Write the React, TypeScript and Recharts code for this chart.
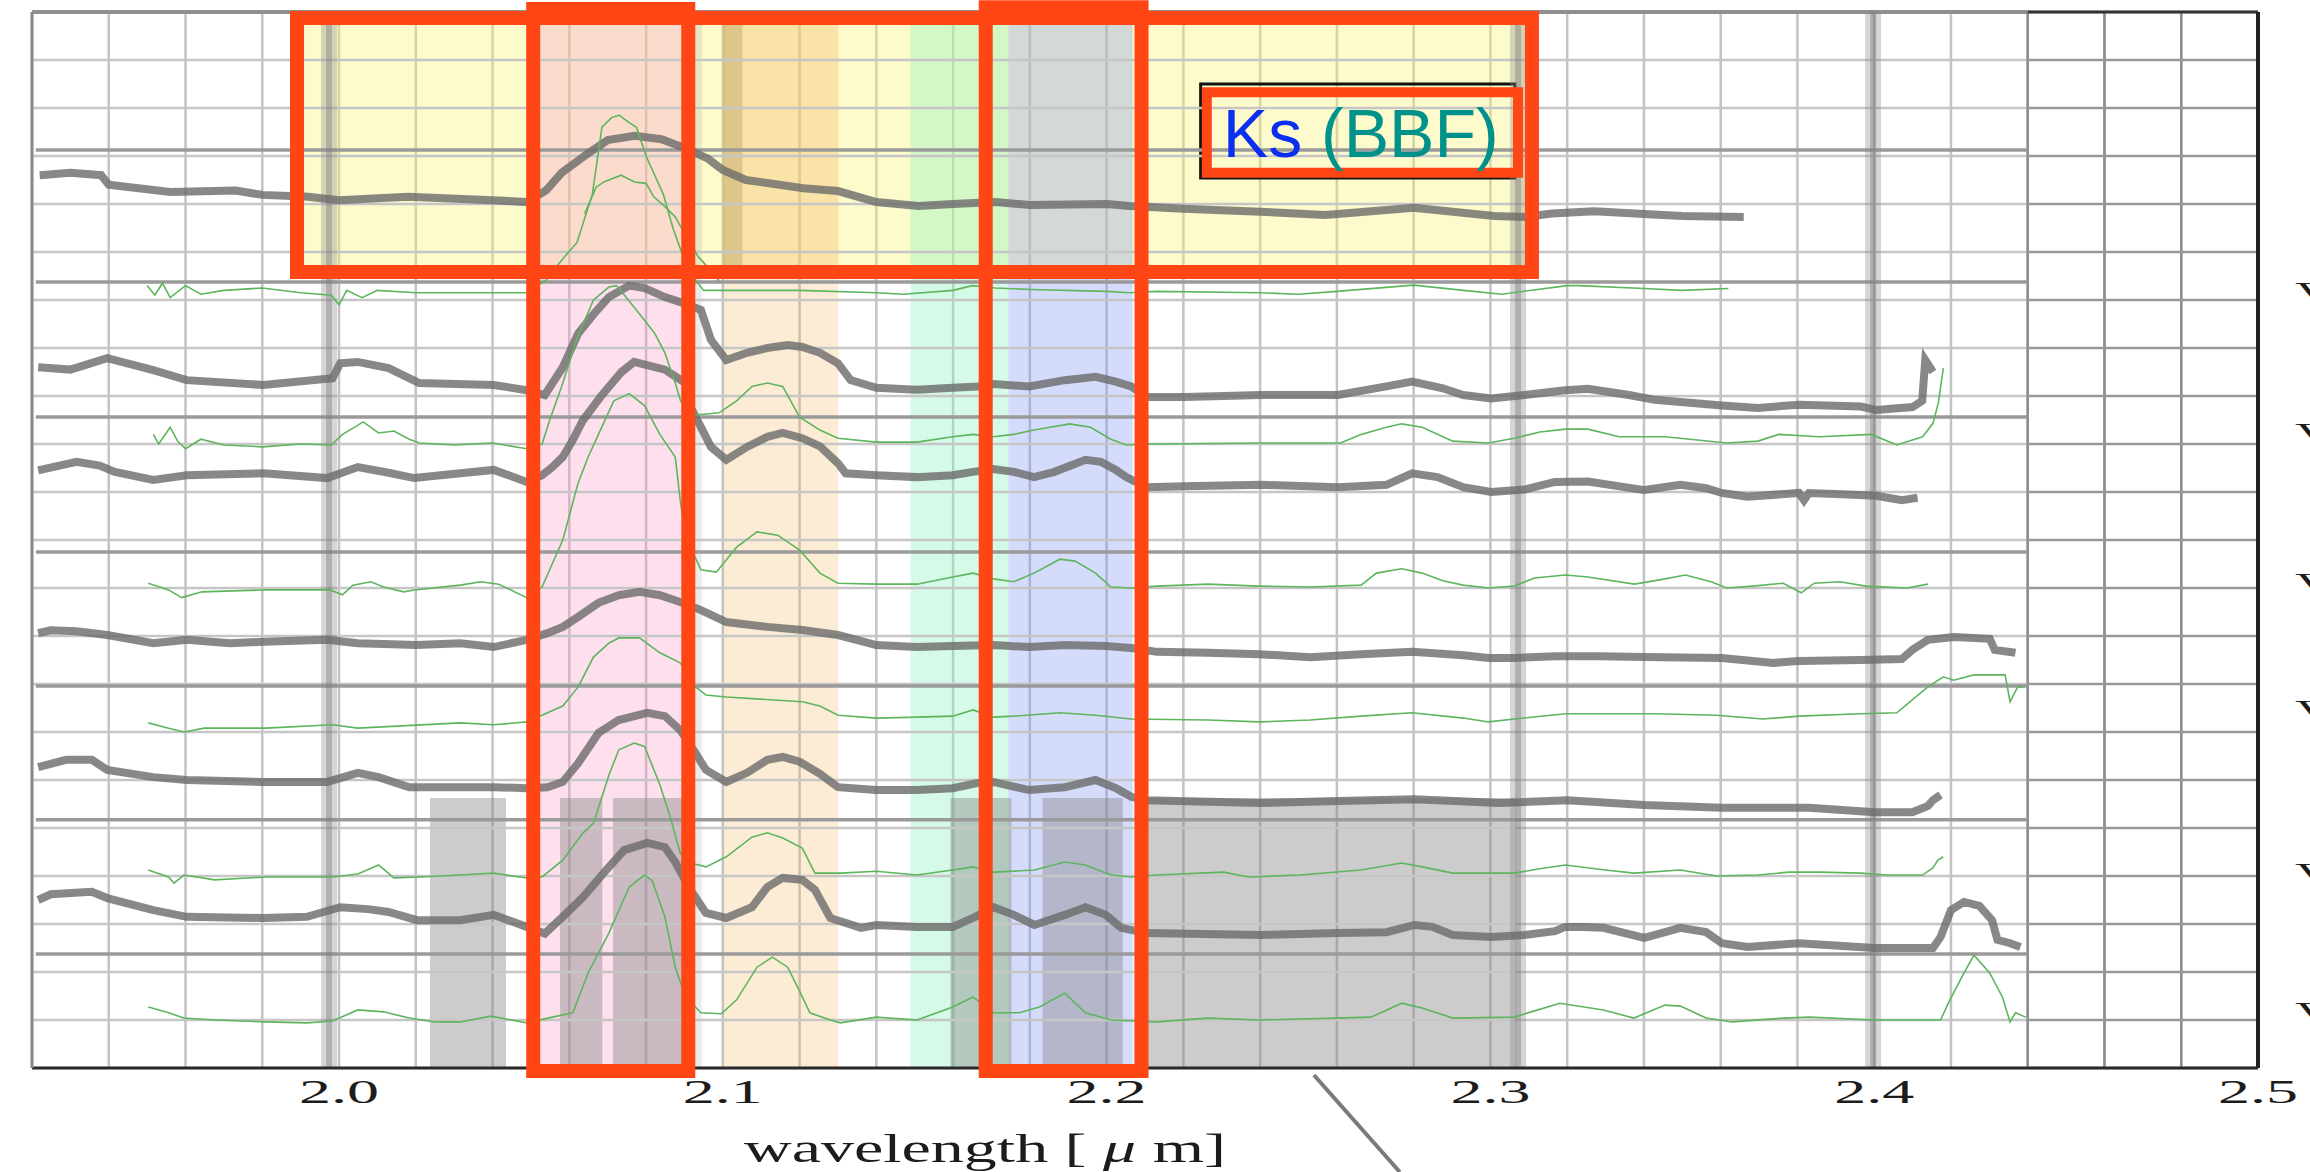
import React from "react";
import {
  LineChart,
  Line,
  XAxis,
  YAxis,
  CartesianGrid,
  ReferenceArea,
  ReferenceLine,
  ReferenceDot,
  Label,
} from "recharts";

type P = [number, number];

// axis values
const xTicks = [2.0, 2.1, 2.2, 2.3, 2.4, 2.5];
const yRows = [0, 1, 2, 3, 4, 5, 6, 7, 8, 9, 10, 11, 12, 13, 14, 15, 16, 17, 18, 19, 20, 21, 22];
const gridX = [
  1.92, 1.94, 1.96, 1.98, 2.0, 2.02, 2.04, 2.06, 2.08, 2.1, 2.12, 2.14, 2.16, 2.18, 2.2,
  2.22, 2.24, 2.26, 2.28, 2.3, 2.32, 2.34, 2.36, 2.38, 2.4, 2.42, 2.44, 2.46, 2.48, 2.5,
];
const rightGridX = [2.44, 2.46, 2.48];
const panelRules = [19.125, 16.375, 13.56, 10.75, 7.96, 5.17, 2.375];
const vLabelRows = [15.96, 13.02, 9.9, 7.25, 3.85, 0.96];
const telluric = [1.9974, 2.3072, 2.3997];

// shaded wavelength windows [x1, x2]
const ksWindow: P = [1.9901, 2.3098];
const ksTop: P = [16.625, 22];
const pinkBand: P = [2.0515, 2.0905];
const tanBand: P = [2.1001, 2.1301];
const mintBand: P = [2.1489, 2.1744];
const blueBand: P = [2.1744, 2.2068];
const maskTop = 5.625;
const maskBoxes: P[] = [
  [2.0237, 2.0435],
  [2.0576, 2.0686],
  [2.0714, 2.0897],
  [2.1593, 2.1752],
  [2.1833, 2.2042],
  [2.2071, 2.3066],
];

// annotation boxes [x1, x2, y1, y2]
const redBoxes: [number, number, number, number][] = [
  [1.98905, 2.31082, 16.583, 21.875],
  [2.05059, 2.091, -0.06, 22.06],
  [2.1685, 2.2091, -0.06, 22.1],
];
const ksBox: [number, number, number, number] = [2.2261, 2.3072, 18.65, 20.33];
const ksFrame: [number, number, number, number] = [2.2245, 2.3064, 18.54, 20.5];
const pointer: P[] = [
  [2.254, -0.146],
  [2.2764, -2.167],
];

// spectra
const grayA: P[] = [
  [1.922, 18.6], [1.93, 18.65], [1.938, 18.6], [1.94, 18.4], [1.956, 18.25], [1.973, 18.28],
  [1.98, 18.19], [1.992, 18.15], [2.0, 18.08], [2.018, 18.15], [2.04, 18.08], [2.049, 18.04],
  [2.054, 18.29], [2.058, 18.65], [2.065, 19.06], [2.07, 19.33], [2.077, 19.42], [2.084, 19.35],
  [2.09, 19.17], [2.096, 18.95], [2.1, 18.71], [2.106, 18.5], [2.121, 18.33], [2.13, 18.27],
  [2.14, 18.04], [2.151, 17.96], [2.16, 18.0], [2.171, 18.04], [2.18, 17.98], [2.2, 18.0],
  [2.206, 17.96], [2.22, 17.9], [2.24, 17.84], [2.257, 17.77], [2.28, 17.92], [2.301, 17.75],
  [2.309, 17.73], [2.316, 17.8], [2.327, 17.85], [2.34, 17.79], [2.35, 17.75], [2.366, 17.73],
];
const greenA: P[] = [
  [1.95, 16.3], [1.952, 16.1], [1.954, 16.35], [1.956, 16.05], [1.96, 16.3], [1.964, 16.12],
  [1.97, 16.2], [1.98, 16.25], [1.99, 16.15], [1.998, 16.1], [2.0, 15.9], [2.002, 16.2],
  [2.006, 16.05], [2.01, 16.2], [2.02, 16.15], [2.035, 16.15], [2.049, 16.15], [2.054, 16.42],
  [2.058, 16.83], [2.062, 17.2], [2.066, 18.2], [2.0685, 19.6], [2.071, 19.8], [2.073, 19.85],
  [2.0755, 19.7], [2.0775, 19.6], [2.08, 19.0], [2.0845, 18.2], [2.087, 17.5], [2.09, 16.83],
  [2.0925, 16.45], [2.095, 16.2], [2.12, 16.2], [2.14, 16.15], [2.147, 16.12], [2.16, 16.2],
  [2.165, 16.3], [2.171, 16.25], [2.18, 16.22], [2.2, 16.18], [2.206, 16.15], [2.213, 16.18],
  [2.24, 16.15], [2.25, 16.12], [2.26, 16.18], [2.28, 16.31], [2.293, 16.2], [2.303, 16.12],
  [2.32, 16.3], [2.323, 16.3], [2.34, 16.24], [2.35, 16.2], [2.362, 16.24],
];
const greenA2: P[] = [
  [2.064, 17.8], [2.067, 18.35], [2.069, 18.46], [2.0735, 18.6], [2.077, 18.46], [2.08, 18.43],
  [2.082, 18.15], [2.085, 17.94], [2.0876, 17.73], [2.091, 17.25], [2.0936, 16.9], [2.096, 16.69],
  [2.099, 16.4],
];
const grayB: P[] = [
  [1.9216, 14.6], [1.93, 14.55], [1.9396, 14.79], [1.9516, 14.54], [1.9603, 14.33], [1.9803, 14.23],
  [1.9983, 14.37], [2.0003, 14.68], [2.0049, 14.71], [2.0129, 14.58], [2.0209, 14.27], [2.0403, 14.23],
  [2.0489, 14.12], [2.0536, 14.02], [2.0583, 14.6], [2.0623, 15.3], [2.0663, 15.7], [2.0703, 16.06],
  [2.0756, 16.3], [2.0796, 16.25], [2.0849, 16.06], [2.0903, 15.92], [2.0943, 15.79], [2.0969, 15.17],
  [2.1009, 14.75], [2.1063, 14.9], [2.1116, 15.0], [2.1169, 15.06], [2.1207, 15.02], [2.1253, 14.9],
  [2.13, 14.68], [2.1333, 14.33], [2.14, 14.17], [2.1506, 14.13], [2.1599, 14.17], [2.1665, 14.2],
  [2.1705, 14.25], [2.1798, 14.2], [2.1891, 14.33], [2.1971, 14.4], [2.2024, 14.3], [2.2064, 14.2],
  [2.2104, 13.98], [2.2204, 13.98], [2.2403, 14.02], [2.2603, 14.02], [2.2729, 14.2], [2.2796, 14.3],
  [2.2876, 14.16], [2.2929, 14.02], [2.3002, 13.95], [2.3089, 14.02], [2.3195, 14.12], [2.3254, 14.15],
  [2.3361, 14.02], [2.3428, 13.92], [2.3603, 13.8], [2.3697, 13.75], [2.3804, 13.82], [2.3965, 13.78],
  [2.4005, 13.71], [2.41, 13.77], [2.4125, 13.9], [2.4133, 14.75], [2.4153, 14.5],
];
const greenB: P[] = [
  [1.9516, 13.2], [1.953, 13.0], [1.956, 13.35], [1.958, 13.05], [1.96, 12.9], [1.964, 13.1],
  [1.97, 12.98], [1.98, 12.94], [1.99, 13.0], [1.998, 12.98], [2.0009, 13.2], [2.003, 13.3],
  [2.0063, 13.46], [2.0103, 13.23], [2.0143, 13.27], [2.0183, 13.1], [2.0209, 13.02], [2.03, 12.98],
  [2.04, 13.02], [2.0489, 12.9], [2.0529, 13.0], [2.0549, 13.5], [2.058, 14.2], [2.062, 15.2],
  [2.0663, 16.0], [2.0703, 16.27], [2.0723, 16.3], [2.0756, 15.98], [2.0796, 15.58], [2.0823, 15.3],
  [2.0849, 14.9], [2.0876, 14.27], [2.089, 13.9], [2.0916, 13.6], [2.095, 13.62], [2.099, 13.65],
  [2.1036, 13.9], [2.1076, 14.2], [2.1116, 14.27], [2.1156, 14.2], [2.12, 13.56], [2.1253, 13.29],
  [2.13, 13.12], [2.14, 13.04], [2.1506, 13.04], [2.1599, 13.15], [2.1652, 13.2], [2.1705, 13.15],
  [2.1758, 13.2], [2.1811, 13.29], [2.1904, 13.42], [2.1958, 13.35], [2.2011, 13.1], [2.2051, 12.98],
  [2.2131, 13.0], [2.24, 13.02], [2.2609, 13.02], [2.2663, 13.2], [2.2729, 13.35], [2.2769, 13.42],
  [2.2822, 13.35], [2.2902, 13.06], [2.2995, 13.02], [2.3062, 13.12], [2.3129, 13.25], [2.3195, 13.31],
  [2.3254, 13.31], [2.3335, 13.15], [2.3455, 13.15], [2.3616, 13.02], [2.3697, 13.06], [2.3751, 13.2],
  [2.3858, 13.15], [2.3992, 13.2], [2.4059, 12.98], [2.4126, 13.15], [2.4153, 13.43], [2.4167, 13.85],
  [2.418, 14.58],
];
const grayC: P[] = [
  [1.9216, 12.45], [1.9316, 12.63], [1.9376, 12.55], [1.9416, 12.42], [1.9516, 12.25], [1.9603, 12.35],
  [1.9803, 12.39], [1.9969, 12.29], [2.0049, 12.52], [2.0129, 12.4], [2.0196, 12.29], [2.0316, 12.39],
  [2.0403, 12.46], [2.0489, 12.21], [2.0529, 12.35], [2.0556, 12.52], [2.0583, 12.73], [2.0609, 13.08],
  [2.0636, 13.5], [2.0683, 14.0], [2.0736, 14.5], [2.0769, 14.71], [2.0849, 14.55], [2.0903, 14.27],
  [2.0916, 13.77], [2.0943, 13.35], [2.0969, 12.94], [2.1009, 12.67], [2.1063, 12.94], [2.1116, 13.15],
  [2.1156, 13.23], [2.1207, 13.12], [2.1253, 12.95], [2.13, 12.6], [2.132, 12.39], [2.14, 12.35],
  [2.1506, 12.31], [2.1599, 12.35], [2.1652, 12.42], [2.1705, 12.48], [2.1758, 12.42], [2.1811, 12.31],
  [2.1864, 12.42], [2.1945, 12.67], [2.1985, 12.63], [2.2024, 12.46], [2.2051, 12.31], [2.2104, 12.1],
  [2.2204, 12.12], [2.2403, 12.15], [2.2603, 12.1], [2.2729, 12.15], [2.2796, 12.39], [2.2862, 12.31],
  [2.2929, 12.1], [2.3002, 12.0], [2.3089, 12.05], [2.3168, 12.21], [2.3254, 12.22], [2.3401, 12.04],
  [2.3495, 12.15], [2.3562, 12.08], [2.3603, 11.98], [2.3669, 11.9], [2.3804, 11.98], [2.3817, 11.83],
  [2.383, 11.98], [2.3898, 11.96], [2.4005, 11.92], [2.4072, 11.83], [2.4113, 11.88],
];
const greenC: P[] = [
  [1.9503, 10.1], [1.9556, 9.96], [1.959, 9.8], [1.9643, 9.92], [1.9803, 9.96], [1.9976, 9.96],
  [2.0009, 9.86], [2.0036, 10.06], [2.0083, 10.13], [2.0116, 10.02], [2.0169, 9.92], [2.0196, 9.96],
  [2.0316, 10.06], [2.0369, 10.13], [2.0416, 10.08], [2.0489, 9.8], [2.0529, 10.02], [2.0583, 11.0],
  [2.0623, 12.19], [2.0649, 12.73], [2.0676, 13.2], [2.0716, 13.9], [2.0756, 14.05], [2.0796, 13.8],
  [2.0836, 13.2], [2.0876, 12.73], [2.0889, 11.83], [2.0903, 11.06], [2.0943, 10.38], [2.0983, 10.33],
  [2.1036, 10.85], [2.1089, 11.17], [2.1143, 11.1], [2.12, 10.79], [2.1253, 10.31], [2.13, 10.1],
  [2.14, 10.08], [2.1506, 10.08], [2.1599, 10.23], [2.1652, 10.31], [2.1705, 10.19], [2.1758, 10.13],
  [2.1811, 10.31], [2.1878, 10.6], [2.1918, 10.56], [2.1971, 10.31], [2.2011, 10.02], [2.2064, 10.0],
  [2.2131, 10.04], [2.2264, 10.08], [2.2397, 10.04], [2.253, 10.02], [2.2663, 10.06], [2.2703, 10.31],
  [2.2769, 10.4], [2.2822, 10.31], [2.2876, 10.15], [2.2929, 10.06], [2.2995, 10.0], [2.3062, 10.04],
  [2.3115, 10.21], [2.3195, 10.27], [2.3254, 10.23], [2.3375, 10.08], [2.3441, 10.17], [2.3508, 10.27],
  [2.3575, 10.13], [2.3616, 10.0], [2.3683, 10.04], [2.3763, 10.1], [2.381, 9.9], [2.3844, 10.1],
  [2.3911, 10.13], [2.3978, 10.04], [2.4085, 10.0], [2.414, 10.08],
];
const grayD: P[] = [
  [1.9216, 9.06], [1.9249, 9.12], [1.9316, 9.1], [1.9396, 9.02], [1.9516, 8.85], [1.9603, 8.92],
  [1.9716, 8.85], [1.9803, 8.88], [1.9969, 8.92], [2.0049, 8.85], [2.0203, 8.81], [2.0316, 8.85],
  [2.0403, 8.77], [2.0489, 8.92], [2.0543, 9.06], [2.0583, 9.19], [2.0623, 9.4], [2.0676, 9.69],
  [2.0729, 9.85], [2.0783, 9.92], [2.0836, 9.85], [2.0889, 9.71], [2.0943, 9.54], [2.1009, 9.29],
  [2.1116, 9.19], [2.1207, 9.125], [2.13, 9.02], [2.14, 8.81], [2.1506, 8.77], [2.1599, 8.79],
  [2.1705, 8.81], [2.1798, 8.77], [2.1891, 8.81], [2.1998, 8.79], [2.2064, 8.75], [2.2131, 8.67],
  [2.2264, 8.65], [2.2397, 8.62], [2.253, 8.56], [2.2663, 8.62], [2.2796, 8.67], [2.2929, 8.6],
  [2.2995, 8.54], [2.3062, 8.54], [2.3168, 8.58], [2.3285, 8.58], [2.3401, 8.56], [2.3603, 8.54],
  [2.3737, 8.44], [2.3804, 8.48], [2.3965, 8.5], [2.4072, 8.52], [2.4099, 8.71], [2.414, 8.92],
  [2.4207, 8.98], [2.4301, 8.94], [2.4314, 8.71], [2.4368, 8.65],
];
const greenD: P[] = [
  [1.9503, 7.19], [1.9556, 7.08], [1.9596, 7.0], [1.9649, 7.08], [1.9809, 7.08], [1.9983, 7.15],
  [2.0049, 7.08], [2.0316, 7.19], [2.0403, 7.15], [2.0489, 7.21], [2.0543, 7.4], [2.0583, 7.54],
  [2.0623, 7.94], [2.0663, 8.56], [2.0703, 8.85], [2.0729, 8.96], [2.0783, 8.96], [2.0836, 8.65],
  [2.0889, 8.44], [2.0929, 7.94], [2.0956, 7.77], [2.1009, 7.73], [2.1207, 7.63], [2.1253, 7.54],
  [2.13, 7.35], [2.14, 7.29], [2.1506, 7.31], [2.1599, 7.33], [2.1652, 7.46], [2.1705, 7.31],
  [2.1758, 7.33], [2.1878, 7.4], [2.1971, 7.35], [2.2064, 7.27], [2.2264, 7.25], [2.2397, 7.21],
  [2.253, 7.25], [2.2663, 7.33], [2.2796, 7.4], [2.2929, 7.29], [2.2995, 7.21], [2.3062, 7.27],
  [2.3195, 7.38], [2.3294, 7.38], [2.3428, 7.38], [2.3589, 7.35], [2.371, 7.27], [2.3804, 7.33],
  [2.3965, 7.38], [2.4059, 7.4], [2.4099, 7.67], [2.414, 7.94], [2.418, 8.15], [2.4207, 8.08],
  [2.426, 8.19], [2.4341, 8.19], [2.4354, 7.63], [2.4374, 7.94], [2.4388, 7.94],
];
const grayE: P[] = [
  [1.9216, 6.27], [1.9289, 6.42], [1.9356, 6.42], [1.9396, 6.21], [1.9516, 6.06], [1.9603, 6.0],
  [1.9803, 5.96], [1.9969, 5.96], [2.0049, 6.15], [2.0103, 6.06], [2.0183, 5.85], [2.0403, 5.85],
  [2.0489, 5.83], [2.0543, 5.85], [2.0583, 5.96], [2.0623, 6.35], [2.0676, 6.98], [2.0729, 7.25],
  [2.0803, 7.4], [2.0849, 7.33], [2.0889, 7.04], [2.0929, 6.56], [2.0956, 6.21], [2.1009, 5.96],
  [2.1063, 6.15], [2.1116, 6.42], [2.1156, 6.48], [2.12, 6.38], [2.1253, 6.13], [2.13, 5.85],
  [2.14, 5.79], [2.1506, 5.79], [2.1599, 5.83], [2.1665, 5.94], [2.1705, 5.96], [2.1798, 5.79],
  [2.1891, 5.85], [2.1971, 6.0], [2.2024, 5.83], [2.2064, 5.65], [2.2104, 5.58], [2.2403, 5.52],
  [2.2603, 5.56], [2.2802, 5.6], [2.3025, 5.52], [2.32, 5.58], [2.3401, 5.48], [2.3603, 5.42],
  [2.3831, 5.42], [2.4001, 5.33], [2.4099, 5.33], [2.414, 5.46], [2.4153, 5.58], [2.4173, 5.69],
];
const greenE: P[] = [
  [1.9503, 4.125], [1.9556, 3.98], [1.957, 3.85], [1.9596, 4.02], [1.9676, 3.92], [1.9809, 3.98],
  [1.9983, 3.98], [2.0049, 4.04], [2.0103, 4.23], [2.0143, 3.96], [2.0209, 3.98], [2.0316, 4.02],
  [2.0403, 4.06], [2.0489, 3.96], [2.0529, 3.98], [2.0583, 4.33], [2.0636, 4.9], [2.0663, 5.1],
  [2.0703, 6.1], [2.0729, 6.63], [2.0769, 6.77], [2.0796, 6.7], [2.0816, 6.3], [2.0836, 5.9],
  [2.0863, 5.23], [2.0889, 4.48], [2.0916, 4.27], [2.0956, 4.19], [2.1009, 4.4], [2.1076, 4.81],
  [2.1116, 4.9], [2.1156, 4.79], [2.1207, 4.58], [2.124, 4.06], [2.1306, 4.06], [2.14, 4.1],
  [2.1506, 4.02], [2.1599, 4.125], [2.1652, 4.19], [2.1705, 4.08], [2.1812, 4.125], [2.1891, 4.29],
  [2.1945, 4.23], [2.2011, 4.02], [2.2064, 3.98], [2.2131, 4.02], [2.2304, 4.08], [2.237, 3.98],
  [2.2503, 4.02], [2.2663, 4.125], [2.2769, 4.27], [2.2822, 4.19], [2.2902, 4.06], [2.3062, 4.06],
  [2.3128, 4.15], [2.3195, 4.23], [2.3294, 4.13], [2.3374, 4.06], [2.3495, 4.125], [2.3589, 4.0],
  [2.3697, 4.02], [2.3777, 4.08], [2.3858, 4.08], [2.3965, 4.06], [2.4032, 4.02], [2.4126, 4.02],
  [2.4153, 4.17], [2.4166, 4.33], [2.418, 4.4],
];
const grayF: P[] = [
  [1.9216, 3.5], [1.9249, 3.62], [1.9356, 3.67], [1.9396, 3.54], [1.9516, 3.29], [1.9603, 3.15],
  [1.9803, 3.125], [1.9916, 3.15], [2.0003, 3.35], [2.0076, 3.31], [2.0129, 3.25], [2.0203, 3.08],
  [2.0316, 3.08], [2.0403, 3.19], [2.0489, 2.94], [2.0536, 2.8], [2.0583, 3.15], [2.0636, 3.56],
  [2.0689, 4.06], [2.0743, 4.54], [2.0803, 4.69], [2.0849, 4.6], [2.0876, 4.29], [2.0916, 3.71],
  [2.0956, 3.23], [2.1009, 3.125], [2.1076, 3.35], [2.1116, 3.77], [2.1156, 3.96], [2.1207, 3.92],
  [2.124, 3.71], [2.128, 3.125], [2.136, 2.92], [2.14, 2.98], [2.1506, 2.94], [2.1599, 2.94],
  [2.1652, 3.125], [2.1705, 3.35], [2.1758, 3.19], [2.1812, 2.98], [2.1891, 3.19], [2.1945, 3.35],
  [2.1998, 3.19], [2.2038, 2.92], [2.2104, 2.81], [2.2403, 2.77], [2.2603, 2.81], [2.2729, 2.83],
  [2.2802, 2.98], [2.2849, 2.94], [2.2902, 2.77], [2.3002, 2.73], [2.3089, 2.77], [2.3168, 2.85],
  [2.3195, 2.94], [2.324, 2.94], [2.3294, 2.92], [2.3401, 2.71], [2.3495, 2.92], [2.3562, 2.83],
  [2.3603, 2.6], [2.367, 2.52], [2.3804, 2.6], [2.4001, 2.5], [2.4153, 2.5], [2.4173, 2.73],
  [2.42, 3.29], [2.4234, 3.46], [2.4274, 3.38], [2.4307, 3.08], [2.4321, 2.67], [2.4354, 2.6],
  [2.4381, 2.52],
];
const greenF: P[] = [
  [1.9503, 1.27], [1.9556, 1.15], [1.9596, 1.04], [1.9676, 1.0], [1.9809, 0.96], [1.9916, 0.94],
  [1.9983, 0.98], [2.0049, 1.21], [2.0116, 1.17], [2.0183, 1.04], [2.0249, 0.96], [2.0316, 0.96],
  [2.0396, 1.08], [2.0449, 1.0], [2.0489, 0.94], [2.0556, 1.06], [2.0609, 1.15], [2.0649, 1.98],
  [2.0703, 2.81], [2.0756, 3.77], [2.0796, 4.02], [2.0816, 3.9], [2.0849, 3.15], [2.0876, 2.1],
  [2.0903, 1.48], [2.0943, 1.15], [2.0996, 1.13], [2.1036, 1.42], [2.1089, 2.1], [2.1129, 2.31],
  [2.1169, 2.1], [2.12, 1.6], [2.1227, 1.15], [2.128, 1.0], [2.1306, 0.94], [2.14, 1.06],
  [2.1506, 1.0], [2.1599, 1.27], [2.1652, 1.48], [2.1705, 1.15], [2.1772, 1.15], [2.1825, 1.27],
  [2.1891, 1.56], [2.1945, 1.15], [2.2011, 1.0], [2.2131, 0.96], [2.2264, 1.04], [2.2397, 1.0],
  [2.2596, 1.04], [2.2689, 1.06], [2.2769, 1.35], [2.2822, 1.25], [2.2902, 1.04], [2.3062, 1.06],
  [2.3115, 1.19], [2.3181, 1.35], [2.3294, 1.21], [2.3374, 1.04], [2.3455, 1.31], [2.3495, 1.29],
  [2.3562, 1.04], [2.363, 0.96], [2.3764, 1.04], [2.3831, 1.06], [2.4001, 1.0], [2.4173, 1.0],
  [2.4193, 1.35], [2.4234, 1.98], [2.426, 2.35], [2.4301, 1.98], [2.4334, 1.48], [2.4354, 0.96],
  [2.4368, 1.15], [2.4395, 1.06],
];

const grayLines = [grayA, grayB, grayC, grayD, grayE, grayF];
const greenLines = [greenA, greenA2, greenB, greenC, greenD, greenE, greenF];

const toPts = (arr: P[]) => arr.map(([x, y]) => ({ x, y }));

const SERIF = "'Liberation Serif', 'Times New Roman', serif";
const SANS = "'Liberation Sans', Arial, sans-serif";
const RED = "#ff4614";

const XTick = ({ x, y, payload }: any) => (
  <text
    x={x}
    y={y + 35}
    textAnchor="middle"
    fontFamily={SERIF}
    fontSize={34}
    fill="#1c1c1c"
    textLength={80}
    lengthAdjust="spacingAndGlyphs"
  >
    {Number(payload.value).toFixed(1)}
  </text>
);

const AxisTitle = ({ viewBox }: any) => (
  <text
    x={viewBox.x + 953}
    y={viewBox.y + 94}
    textAnchor="middle"
    fontFamily={SERIF}
    fontSize={40}
    fill="#1c1c1c"
    textLength={482}
    lengthAdjust="spacingAndGlyphs"
    xmlSpace="preserve"
  >
    <tspan>wavelength [ </tspan>
    <tspan fontStyle="italic">μ</tspan>
    <tspan> m]</tspan>
  </text>
);

const KsLabel = ({ viewBox }: any) => (
  <text x={viewBox.x + 16} y={viewBox.y + 65} fontFamily={SANS} fontSize={68} xmlSpace="preserve">
    <tspan fill="#0b2ff0">Ks</tspan>
    <tspan fill="#00928a"> (BBF)</tspan>
  </text>
);

const VLabel = ({ viewBox }: any) => (
  <text
    x={viewBox.x + 37}
    y={viewBox.y}
    fontFamily={SERIF}
    fontSize={30}
    fill="#1c1c1c"
    textLength={40}
    lengthAdjust="spacingAndGlyphs"
  >
    V
  </text>
);

export default function App() {
  return (
    <div style={{ position: "absolute", left: 0, top: 0, width: 2310, height: 1172, background: "#fff" }}>
      <LineChart width={2310} height={1172} margin={{ top: 12, right: 52, bottom: 103, left: 31 }}>
        <CartesianGrid stroke="#c3c3c3" strokeWidth={2.5} horizontal={false} verticalValues={gridX} />
        <XAxis
          dataKey="x"
          type="number"
          domain={[1.92, 2.5]}
          allowDataOverflow
          ticks={xTicks}
          interval={0}
          height={1}
          tickSize={0}
          tickMargin={0}
          tickLine={false}
          tick={<XTick />}
          axisLine={{ stroke: "#2a2a2a", strokeWidth: 3 }}
        >
          <Label content={<AxisTitle />} />
        </XAxis>
        <YAxis
          type="number"
          domain={[0, 22]}
          allowDataOverflow
          ticks={yRows}
          interval={0}
          width={1}
          tick={false}
          tickSize={19}
          tickLine={{ stroke: "#8a8a8a", strokeWidth: 3 }}
          axisLine={{ stroke: "#8a8a8a", strokeWidth: 3 }}
        />

        {/* left-hand grid rows */}
        {yRows.map((r) => (
          <ReferenceLine
            key={`lh${r}`}
            segment={[{ x: 1.92, y: r }, { x: 2.44, y: r }]}
            stroke="#c6c6c6"
            strokeWidth={2.5}
          />
        ))}

        {/* filter windows */}
        <ReferenceArea x1={ksWindow[0]} x2={ksWindow[1]} y1={ksTop[0]} y2={ksTop[1]} fill="rgb(250,240,110)" fillOpacity={0.35} />
        <ReferenceArea x1={pinkBand[0]} x2={pinkBand[1]} y1={0} y2={22} fill="rgb(248,152,200)" fillOpacity={0.31} />
        <ReferenceArea x1={pinkBand[1]} x2={pinkBand[1] + 0.004} y1={0} y2={22} fill="#999" fillOpacity={0.2} />
        <ReferenceArea x1={tanBand[0]} x2={tanBand[1]} y1={0} y2={ksTop[0]} fill="rgb(245,180,90)" fillOpacity={0.255} />
        <ReferenceArea x1={tanBand[0]} x2={tanBand[1]} y1={ksTop[0]} y2={22} fill="rgb(245,180,90)" fillOpacity={0.32} />
        <ReferenceArea x1={tanBand[0]} x2={tanBand[0] + 0.005} y1={ksTop[0]} y2={22} fill="#8a6a30" fillOpacity={0.25} />
        <ReferenceArea x1={mintBand[0]} x2={mintBand[1]} y1={0} y2={22} fill="rgb(140,240,190)" fillOpacity={0.365} />
        <ReferenceArea x1={blueBand[0]} x2={blueBand[1]} y1={0} y2={22} fill="rgb(119,142,242)" fillOpacity={0.31} />

        {/* masked regions */}
        {maskBoxes.map(([a, b], i) => (
          <ReferenceArea key={`m${i}`} x1={a} x2={b} y1={0} y2={maskTop} fill="#808080" fillOpacity={0.4} />
        ))}

        {/* right-hand grid and frame */}
        {rightGridX.map((x) => (
          <ReferenceLine key={`rg${x}`} x={x} stroke="#8c8c8c" strokeWidth={2.5} />
        ))}
        {yRows.map((r) => (
          <ReferenceLine
            key={`rh${r}`}
            segment={[{ x: 2.44, y: r }, { x: 2.5, y: r }]}
            stroke="#999"
            strokeWidth={2.5}
          />
        ))}
        {panelRules.map((r) => (
          <ReferenceLine
            key={`pr${r}`}
            segment={[{ x: 1.921, y: r }, { x: 2.44, y: r }]}
            stroke="#9a9a9a"
            strokeWidth={3.5}
          />
        ))}
        <ReferenceLine segment={[{ x: 1.92, y: 22 }, { x: 2.44, y: 22 }]} stroke="#8f8f8f" strokeWidth={4} />
        <ReferenceLine segment={[{ x: 2.44, y: 22 }, { x: 2.5, y: 22 }]} stroke="#333" strokeWidth={3} />
        <ReferenceLine x={2.5} stroke="#222" strokeWidth={4} />

        {/* telluric features */}
        {telluric.map((x) => (
          <ReferenceLine key={`t${x}`} x={x} stroke="#8a8a8a" strokeOpacity={0.35} strokeWidth={16} />
        ))}
        {telluric.map((x) => (
          <ReferenceLine key={`tc${x}`} x={x} stroke="#777" strokeOpacity={0.4} strokeWidth={6} />
        ))}

        {grayLines.map((s, i) => (
          <Line
            key={`g${i}`}
            data={toPts(s)}
            dataKey="y"
            type="linear"
            stroke="#6a6a6a"
            strokeOpacity={0.8}
            strokeWidth={8}
            dot={false}
            activeDot={false}
            isAnimationActive={false}
          />
        ))}
        {greenLines.map((s, i) => (
          <Line
            key={`n${i}`}
            data={toPts(s)}
            dataKey="y"
            type="linear"
            stroke="#5db55d"
            strokeWidth={1.6}
            dot={false}
            activeDot={false}
            isAnimationActive={false}
          />
        ))}

        {/* annotations */}
        <ReferenceArea
          x1={ksFrame[0]}
          x2={ksFrame[1]}
          y1={ksFrame[2]}
          y2={ksFrame[3]}
          fill="none"
          stroke="#111"
          strokeWidth={3}
        />
        {redBoxes.map(([a, b, c, d], i) => (
          <ReferenceArea
            key={`r${i}`}
            x1={a}
            x2={b}
            y1={c}
            y2={d}
            ifOverflow="visible"
            fill="none"
            stroke={RED}
            strokeWidth={14}
            zIndex={1500}
          />
        ))}
        <ReferenceArea
          x1={ksBox[0]}
          x2={ksBox[1]}
          y1={ksBox[2]}
          y2={ksBox[3]}
          fill="none"
          stroke={RED}
          strokeWidth={10}
          zIndex={1500}
          label={<KsLabel />}
        />
        <ReferenceLine
          segment={[{ x: pointer[0][0], y: pointer[0][1] }, { x: pointer[1][0], y: pointer[1][1] }]}
          ifOverflow="visible"
          stroke="#7a7a7a"
          strokeWidth={4}
        />
        {vLabelRows.map((r) => (
          <ReferenceDot key={`v${r}`} x={2.5} y={r} r={0} ifOverflow="visible" fill="none" stroke="none" label={<VLabel />} />
        ))}
      </LineChart>
    </div>
  );
}
